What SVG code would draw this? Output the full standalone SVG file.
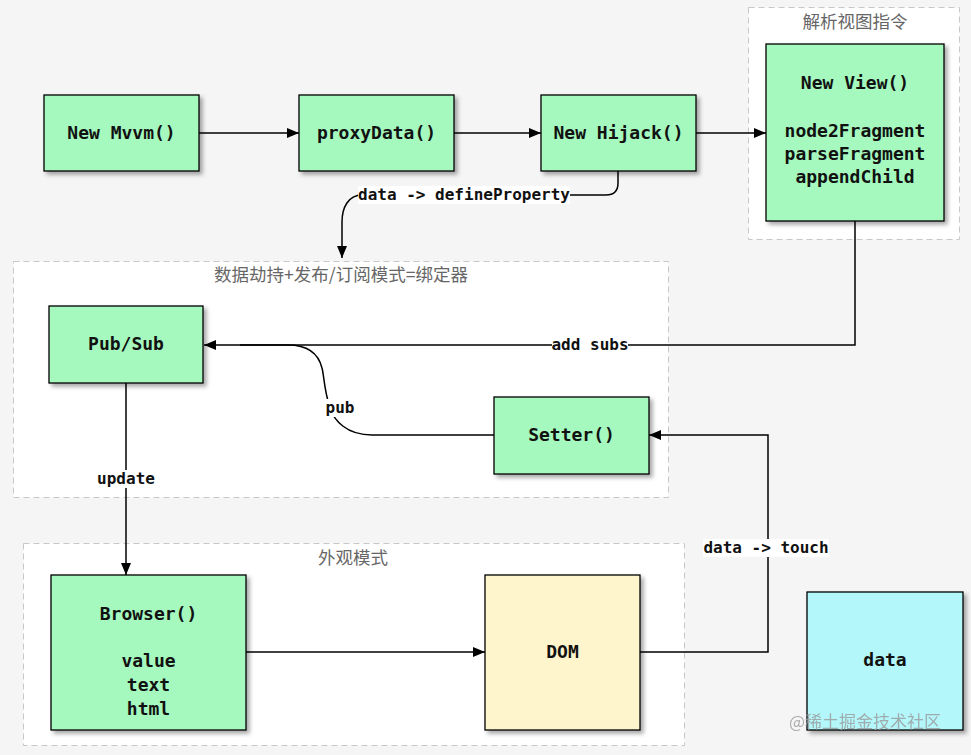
<svg xmlns="http://www.w3.org/2000/svg" width="971" height="755" viewBox="0 0 971 755">
<defs>
<style>
.bg{fill:#f5f5f5}
.cont{fill:#ffffff;stroke:#c8c8c8;stroke-width:1;stroke-dasharray:6,4}
.ctitle{font-family:"Noto Sans CJK SC","Noto Sans",sans-serif;font-size:17.5px;fill:#666;text-anchor:middle}
.node{stroke:#000;stroke-width:1.3;filter:url(#sh)}
.g{fill:#a5f9bf}
.y{fill:#fff5cc}
.c{fill:#b3f7fb}
.nt{font-family:"DejaVu Sans Mono","Liberation Mono",monospace;font-weight:bold;font-size:18px;fill:#111;text-anchor:middle}
.ln{fill:none;stroke:#000;stroke-width:1.5}
.lb{font-family:"DejaVu Sans Mono","Liberation Mono",monospace;font-weight:bold;font-size:16px;fill:#111;text-anchor:middle}
.lbg{fill:#ffffff}
.wm{font-family:"Noto Sans CJK SC",sans-serif;font-size:17px;fill:#9a9a9a;opacity:0.8}
</style>
<filter id="sh" x="-10%" y="-10%" width="130%" height="130%">
<feDropShadow dx="3" dy="3" stdDeviation="2" flood-color="#000" flood-opacity="0.35"/>
</filter>
<marker id="ar" viewBox="0 0 12 10" refX="12" refY="5" markerWidth="12" markerHeight="10" markerUnits="userSpaceOnUse" orient="auto">
<path d="M0,0 L12,5 L0,10 z" fill="#000"/>
</marker>
</defs>
<rect class="bg" x="0" y="0" width="971" height="755"/>

<g id="containers">
<g id="c-view"><rect class="cont" x="748.5" y="7.5" width="211" height="232"/><text class="ctitle" x="855" y="28">解析视图指令</text></g>
<g id="c-binder"><rect class="cont" x="13.5" y="261.5" width="655" height="236"/><text class="ctitle" x="341" y="281">数据劫持+发布/订阅模式=绑定器</text></g>
<g id="c-facade"><rect class="cont" x="23.5" y="543.5" width="661" height="202"/><text class="ctitle" x="353" y="564">外观模式</text></g>
</g>

<g id="connectors">
<path class="ln" d="M199,133 H299" marker-end="url(#ar)"/>
<path class="ln" d="M454,133 H541" marker-end="url(#ar)"/>
<path class="ln" d="M696,133 H766" marker-end="url(#ar)"/>
<path class="ln" d="M618,171 V183 Q618,195 606,195 H362 C348,195 342,208 342,222 V258" marker-end="url(#ar)"/>
<path class="ln" d="M855,221 V345 H204" marker-end="url(#ar)"/>
<path class="ln" d="M494,435 H372 C346,435 334,420 330,408 C324,390 324,375 322,368 C318,352 306,345 288,345 H240"/>
<path class="ln" d="M126,383 V575" marker-end="url(#ar)"/>
<path class="ln" d="M246,652 H485" marker-end="url(#ar)"/>
<path class="ln" d="M640,652 H768 V435 H649" marker-end="url(#ar)"/>
<rect class="lbg" x="358" y="186" width="212" height="18"/>
<text class="lb" x="464" y="200">data -&gt; defineProperty</text>
<rect class="lbg" x="552" y="336" width="76" height="18"/>
<text class="lb" x="590" y="350">add subs</text>
<rect class="lbg" x="326" y="399" width="29" height="18"/>
<text class="lb" x="340" y="413">pub</text>
<rect class="lbg" x="97" y="470" width="58" height="18"/>
<text class="lb" x="126" y="484">update</text>
<rect class="lbg" x="703" y="539" width="126" height="18"/>
<text class="lb" x="766" y="553">data -&gt; touch</text>
</g>

<g id="n-mvvm"><rect class="node g" x="44" y="95" width="155" height="76"/><text class="nt" x="121.5" y="139">New Mvvm()</text></g>
<g id="n-proxy"><rect class="node g" x="299" y="95" width="155" height="76"/><text class="nt" x="376.5" y="139">proxyData()</text></g>
<g id="n-hijack"><rect class="node g" x="541" y="95" width="155" height="76"/><text class="nt" x="618.5" y="139">New Hijack()</text></g>
<g id="n-view"><rect class="node g" x="766" y="44" width="178" height="177"/>
<text class="nt" x="855" y="89">New View()</text>
<text class="nt" x="855" y="137">node2Fragment</text>
<text class="nt" x="855" y="160">parseFragment</text>
<text class="nt" x="855" y="183">appendChild</text></g>
<g id="n-pubsub"><rect class="node g" x="49" y="306" width="154" height="77"/><text class="nt" x="126" y="350">Pub/Sub</text></g>
<g id="n-setter"><rect class="node g" x="494" y="397" width="155" height="77"/><text class="nt" x="571.5" y="441">Setter()</text></g>
<g id="n-browser"><rect class="node g" x="51" y="575" width="195" height="155"/>
<text class="nt" x="148.5" y="620">Browser()</text>
<text class="nt" x="148.5" y="667">value</text>
<text class="nt" x="148.5" y="691">text</text>
<text class="nt" x="148.5" y="715">html</text></g>
<g id="n-dom"><rect class="node y" x="485" y="575" width="155" height="155"/><text class="nt" x="562.5" y="658">DOM</text></g>
<g id="n-data"><rect class="node c" x="807" y="592" width="156" height="138"/><text class="nt" x="885" y="666">data</text></g>

<text class="wm" x="789" y="728">@稀土掘金技术社区</text>
</svg>
